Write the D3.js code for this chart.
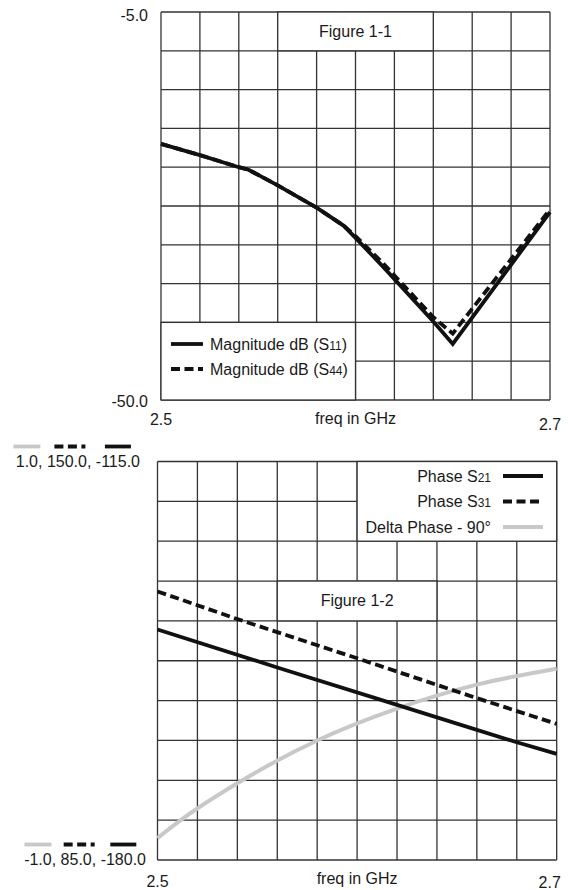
<!DOCTYPE html>
<html>
  <head>
    <title>Figure 1-1 / Figure 1-2</title>
    <script src="https://cdn.jsdelivr.net/npm/d3@7/dist/d3.min.js"></script>
    <style>
      body { margin: 0; background: #fff; }
      text { font-family: Arial, 'Liberation Sans', sans-serif; font-size: 16px; fill: #1a1a1a; }
    </style>
  </head>
  <body>
    <svg width="568" height="890"></svg>
    <script>
      // Figure 1-1 : return loss
      const magFreq = [2.5, 2.52, 2.54, 2.545, 2.56, 2.58, 2.594, 2.6, 2.614, 2.64, 2.65, 2.7]
      const magS11 = [-20.3, -21.6, -23.0, -23.3, -25.1, -27.7, -29.8, -31.2, -34.5, -40.9, -43.5, -28.2]
      const magS44 = [-20.3, -21.6, -23.0, -23.3, -25.1, -27.7, -29.8, -31.0, -34.1, -40.4, -42.3, -27.9]
      const magYTicks = ['-5.0', '-50.0']

      // Figure 1-2 : phase
      const s21Freq = [2.5, 2.56, 2.62, 2.68, 2.7]
      const phaseS21 = [-142.4, -148.6, -154.7, -160.8, -162.7]
      const s31Freq = [2.5, 2.54, 2.6, 2.66, 2.7]
      const phaseS31 = [128.8, 124.3, 117.9, 111.4, 107.2]
      const deltaFreq = [2.5, 2.513, 2.54, 2.58, 2.62, 2.66, 2.7]
      const deltaPhase = [-0.89, -0.79, -0.615, -0.4, -0.24, -0.12, -0.04]
      const phaseTopTicks = ['1.0', '150.0', '-115.0']
      const phaseBottomTicks = ['-1.0', '85.0', '-180.0']

      const freqTicks = ['2.5', '2.7']
      const freqLabel = 'freq in GHz'

      const svg = d3.select('svg')
      const gridColor = '#333'
      const grey = '#c8c8c8'
      const dash = '9,4.5'

      // grid with 10 x 10 cells
      function drawGrid(g, x, y) {
        const xs = d3.range(11).map((i) => x.domain()[0] + (i * (x.domain()[1] - x.domain()[0])) / 10)
        const ys = d3.range(11).map((i) => y.domain()[0] + (i * (y.domain()[1] - y.domain()[0])) / 10)
        g.selectAll('line.v')
          .data(xs)
          .enter()
          .append('line')
          .attr('x1', (d) => x(d))
          .attr('x2', (d) => x(d))
          .attr('y1', y.range()[0])
          .attr('y2', y.range()[1])
          .attr('stroke', gridColor)
          .attr('stroke-width', 1.3)
        g.selectAll('line.h')
          .data(ys)
          .enter()
          .append('line')
          .attr('x1', x.range()[0])
          .attr('x2', x.range()[1])
          .attr('y1', (d) => y(d))
          .attr('y2', (d) => y(d))
          .attr('stroke', gridColor)
          .attr('stroke-width', 1.3)
      }

      function box(g, x0, x1, y0, y1) {
        g.append('rect')
          .attr('x', Math.min(x0, x1))
          .attr('y', Math.min(y0, y1))
          .attr('width', Math.abs(x1 - x0))
          .attr('height', Math.abs(y1 - y0))
          .attr('fill', '#fff')
          .attr('stroke', gridColor)
          .attr('stroke-width', 1.3)
      }

      function subLabel(sel, pre, sub, post) {
        sel.append('tspan').text(pre)
        sel.append('tspan').attr('font-size', 12).text(sub)
        if (post) sel.append('tspan').text(post)
      }

      // ---------- Figure 1-1 ----------
      const x1 = d3.scaleLinear().domain([2.5, 2.7]).range([161, 550])
      const y1 = d3.scaleLinear().domain([-50, -5]).range([400, 12])
      const g1 = svg.append('g')
      drawGrid(g1, x1, y1)

      // title box spans 4 cells in the first row
      box(g1, x1(2.56), x1(2.64), y1(-5), y1(-9.5))
      g1.append('text')
        .attr('x', x1(2.6))
        .attr('y', y1(-7.25) + 5.5)
        .attr('text-anchor', 'middle')
        .text('Figure 1-1')

      // legend box, bottom-left 5 x 2 cells
      box(g1, x1(2.5), x1(2.6), y1(-41), y1(-50))
      const leg1 = [
        { name: ['Magnitude dB (S', '11', ')'], dash: null },
        { name: ['Magnitude dB (S', '44', ')'], dash: dash },
      ]
      leg1.forEach((d, i) => {
        const yy = y1(-41) + 21.6 + i * 25
        g1.append('line')
          .attr('x1', 171)
          .attr('x2', 203)
          .attr('y1', yy)
          .attr('y2', yy)
          .attr('stroke', '#111')
          .attr('stroke-width', 3.8)
          .attr('stroke-dasharray', d.dash)
        subLabel(g1.append('text').attr('x', 210).attr('y', yy + 5.5), ...d.name)
      })

      const line1 = d3
        .line()
        .x((d, i) => x1(magFreq[i]))
        .y((d) => y1(d))

      g1.append('path')
        .attr('d', line1(magS44))
        .attr('fill', 'none')
        .attr('stroke', '#111')
        .attr('stroke-width', 3.8)
        .attr('stroke-dasharray', dash)
      g1.append('path')
        .attr('d', line1(magS11))
        .attr('fill', 'none')
        .attr('stroke', '#111')
        .attr('stroke-width', 3.8)

      g1.append('text').attr('x', 148).attr('y', y1(-5) + 9).attr('text-anchor', 'end').text(magYTicks[0])
      g1.append('text').attr('x', 148).attr('y', y1(-50) + 7).attr('text-anchor', 'end').text(magYTicks[1])
      g1.append('text').attr('x', x1(2.5)).attr('y', y1(-50) + 25).attr('text-anchor', 'middle').text(freqTicks[0])
      g1.append('text').attr('x', x1(2.7)).attr('y', y1(-50) + 30).attr('text-anchor', 'middle').text(freqTicks[1])
      g1.append('text').attr('x', x1(2.6)).attr('y', y1(-50) + 24).attr('text-anchor', 'middle').text(freqLabel)

      // ---------- Figure 1-2 ----------
      const x2 = d3.scaleLinear().domain([2.5, 2.7]).range([157.5, 556.7])
      const yS21 = d3.scaleLinear().domain([-180, -115]).range([860, 461.5])
      const yS31 = d3.scaleLinear().domain([85, 150]).range([860, 461.5])
      const yDelta = d3.scaleLinear().domain([-1, 1]).range([860, 461.5])
      const g2 = svg.append('g')
      drawGrid(g2, x2, yDelta)

      box(g2, x2(2.56), x2(2.64), yDelta(0.4), yDelta(0.2))
      g2.append('text')
        .attr('x', x2(2.6))
        .attr('y', yDelta(0.3) + 5.5)
        .attr('text-anchor', 'middle')
        .text('Figure 1-2')

      box(g2, x2(2.6), x2(2.7), yDelta(1), yDelta(0.6))
      const leg2 = [
        { name: ['Phase S', '21'], color: '#111', dash: null },
        { name: ['Phase S', '31'], color: '#111', dash: dash },
        { name: ['Delta Phase - 90°', ''], color: grey, dash: null },
      ]
      leg2.forEach((d, i) => {
        const yy = yDelta(1) + 14.5 + i * 25.5
        g2.append('line')
          .attr('x1', 503)
          .attr('x2', 543)
          .attr('y1', yy)
          .attr('y2', yy)
          .attr('stroke', d.color)
          .attr('stroke-width', 3.8)
          .attr('stroke-dasharray', d.dash)
        subLabel(g2.append('text').attr('x', 491).attr('y', yy + 5.5).attr('text-anchor', 'end'), ...d.name)
      })

      g2.append('path')
        .attr('d', d3.line().curve(d3.curveMonotoneX).x((d, i) => x2(deltaFreq[i])).y((d) => yDelta(d))(deltaPhase))
        .attr('fill', 'none')
        .attr('stroke', grey)
        .attr('stroke-width', 4)
      g2.append('path')
        .attr('d', d3.line().x((d, i) => x2(s31Freq[i])).y((d) => yS31(d))(phaseS31))
        .attr('fill', 'none')
        .attr('stroke', '#111')
        .attr('stroke-width', 3.8)
        .attr('stroke-dasharray', dash)
      g2.append('path')
        .attr('d', d3.line().x((d, i) => x2(s21Freq[i])).y((d) => yS21(d))(phaseS21))
        .attr('fill', 'none')
        .attr('stroke', '#111')
        .attr('stroke-width', 3.8)

      // three-scale labels with line samples above each value
      const samples = [
        { color: grey, dash: null, w: 27, dx: 0 },
        { color: '#111', dash: dash, w: 31, dx: 3 },
        { color: '#111', dash: null, w: 26, dx: 0 },
      ]
      function scaleLabel(vals, xr, yb) {
        const str = vals.join(', ')
        const t = g2.append('text').attr('x', xr).attr('y', yb).attr('text-anchor', 'end').text(str)
        const node = t.node()
        let idx = 0
        vals.forEach((v, i) => {
          const a = node.getStartPositionOfChar(idx).x
          const b = node.getEndPositionOfChar(idx + v.length - 1).x
          const c = (a + b) / 2 + samples[i].dx
          g2.append('line')
            .attr('x1', c - samples[i].w / 2)
            .attr('x2', c + samples[i].w / 2)
            .attr('y1', yb - 20.5)
            .attr('y2', yb - 20.5)
            .attr('stroke', samples[i].color)
            .attr('stroke-width', 3.8)
            .attr('stroke-dasharray', samples[i].dash)
          idx += v.length + 2
        })
      }
      scaleLabel(phaseTopTicks, 140, yDelta(1) + 5.5)
      scaleLabel(phaseBottomTicks, 146, yDelta(-1) + 5)

      g2.append('text').attr('x', x2(2.5)).attr('y', yDelta(-1) + 27).attr('text-anchor', 'middle').text(freqTicks[0])
      g2.append('text').attr('x', x2(2.7) - 7).attr('y', yDelta(-1) + 28).attr('text-anchor', 'middle').text(freqTicks[1])
      g2.append('text').attr('x', x2(2.6)).attr('y', yDelta(-1) + 24).attr('text-anchor', 'middle').text(freqLabel)
    </script>
  </body>
</html>
